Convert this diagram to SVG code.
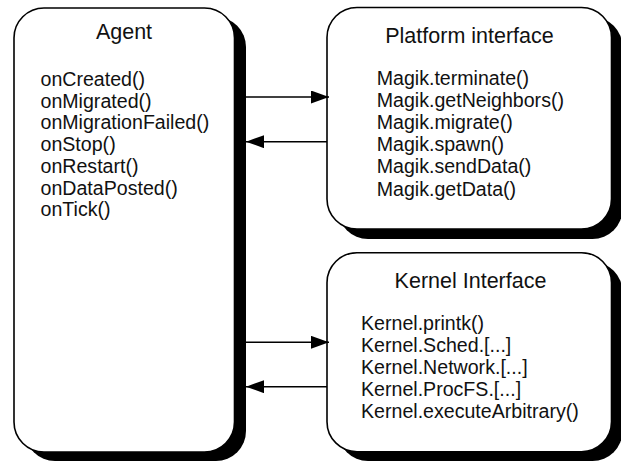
<svg xmlns="http://www.w3.org/2000/svg" width="621" height="461" viewBox="0 0 621 461">
<style>
.shadow{fill:#000;stroke:none}
.box{fill:#fff;stroke:#000;stroke-width:1.6}
.title{font-family:"Liberation Sans",Arial,sans-serif;font-size:21.5px;fill:#111}
.item{font-family:"Liberation Sans",Arial,sans-serif;font-size:19.6px;fill:#111}
.conn{stroke:#000;stroke-width:1.6;fill:none;marker-end:url(#ah)}
</style>
<defs>
<marker id="ah" markerUnits="userSpaceOnUse" markerWidth="20" markerHeight="14" refX="18" refY="6.5" orient="auto">
<path d="M0,0 L18,6.5 L0,13 Z" fill="#000"/>
</marker>
</defs>
<g id="agent">
<rect class="shadow" x="25" y="17" width="221" height="444" rx="30" ry="30"/>
<rect class="box" x="14" y="8" width="220.5" height="444" rx="30" ry="30"/>
<text class="title" x="124" y="39" text-anchor="middle">Agent</text>
<text class="item" x="40.5" y="86">onCreated()</text>
<text class="item" x="40.5" y="107.7">onMigrated()</text>
<text class="item" x="40.5" y="129.4">onMigrationFailed()</text>
<text class="item" x="40.5" y="151.1">onStop()</text>
<text class="item" x="40.5" y="172.8">onRestart()</text>
<text class="item" x="40.5" y="194.5">onDataPosted()</text>
<text class="item" x="40.5" y="216.2">onTick()</text>
</g>
<g id="platform">
<rect class="shadow" x="338" y="17" width="284.5" height="222" rx="30" ry="30"/>
<rect class="box" x="327" y="7.5" width="284.5" height="221.5" rx="30" ry="30"/>
<text class="title" x="469.5" y="42.7" text-anchor="middle">Platform interface</text>
<text class="item" x="376.7" y="84.5">Magik.terminate()</text>
<text class="item" x="376.7" y="106.7">Magik.getNeighbors()</text>
<text class="item" x="376.7" y="128.9">Magik.migrate()</text>
<text class="item" x="376.7" y="151.1">Magik.spawn()</text>
<text class="item" x="376.7" y="173.3">Magik.sendData()</text>
<text class="item" x="376.7" y="195.5">Magik.getData()</text>
</g>
<g id="kernel">
<rect class="shadow" x="338" y="262" width="284.5" height="199" rx="30" ry="30"/>
<rect class="box" x="327" y="252.7" width="284.5" height="199" rx="30" ry="30"/>
<text class="title" x="470.5" y="288.3" text-anchor="middle">Kernel Interface</text>
<text class="item" x="361" y="330">Kernel.printk()</text>
<text class="item" x="361" y="352">Kernel.Sched.[...]</text>
<text class="item" x="361" y="374">Kernel.Network.[...]</text>
<text class="item" x="361" y="396">Kernel.ProcFS.[...]</text>
<text class="item" x="361" y="418">Kernel.executeArbitrary()</text>
</g>
<g id="connectors">
<path class="conn" d="M246,97 L329,97"/>
<path class="conn" d="M327,141.7 L246,141.7"/>
<path class="conn" d="M246,342.3 L329,342.3"/>
<path class="conn" d="M327,386.7 L246,386.7"/>
</g>
</svg>
